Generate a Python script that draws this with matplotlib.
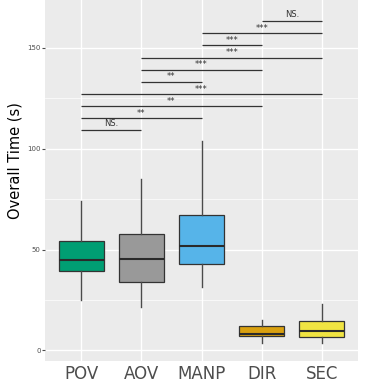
import matplotlib.pyplot as plt
import numpy as np

# conditions and box summary values (seconds)
groups = ["POV", "AOV", "MANP", "DIR", "SEC"]
colors = ["#009E73", "#999999", "#56B4E9", "#D9A00F", "#F0E442"]
whislo = [24.9, 21.6, 31.3, 3.8, 3.8]
q1 = [39.6, 34.0, 42.7, 7.4, 6.6]
med = [45.0, 45.5, 51.6, 8.0, 9.4]
q3 = [54.5, 57.8, 67.3, 11.9, 14.7]
whishi = [74.3, 85.0, 104.0, 15.3, 22.9]

# pairwise comparisons: (group a, group b, bar height, label)
pair_a = ["POV", "POV", "POV", "POV", "AOV", "AOV", "AOV", "MANP", "MANP", "DIR"]
pair_b = ["AOV", "MANP", "DIR", "SEC", "MANP", "DIR", "SEC", "DIR", "SEC", "SEC"]
pair_y = [109.4, 115.2, 121.1, 127.2, 133.3, 139.3, 145.2, 151.3, 157.2, 163.2]
pair_lab = ["NS.", "**", "**", "***", "**", "***", "***", "***", "***", "NS."]

fig = plt.figure(figsize=(3.67, 3.85), dpi=100)
ax = fig.add_axes([0.1226, 0.062, 0.853, 0.938])
ax.set_facecolor("#EBEBEB")
for s in ax.spines.values():
    s.set_visible(False)

pos = np.arange(1, len(groups) + 1)
ax.set_xlim(0.4, 5.6)
ax.set_ylim(-5.3, 173.8)

# ggplot-style grid
for y in [25, 75, 125]:
    ax.axhline(y, color="white", lw=0.5, zorder=0)
for y in [0, 50, 100, 150]:
    ax.axhline(y, color="white", lw=1.0, zorder=0)
for x in pos:
    ax.axvline(x, color="white", lw=1.0, zorder=0)

stats = []
for i, g in enumerate(groups):
    stats.append({"label": g, "whislo": whislo[i], "q1": q1[i], "med": med[i],
                  "q3": q3[i], "whishi": whishi[i], "fliers": []})

bp = ax.bxp(stats, positions=pos, widths=0.75, patch_artist=True, showcaps=False,
            boxprops=dict(edgecolor="#333333", linewidth=0.9),
            whiskerprops=dict(color="#4a4a4a", linewidth=1.0),
            medianprops=dict(color="#2a2a2a", linewidth=1.5))
for patch, c in zip(bp["boxes"], colors):
    patch.set_facecolor(c)

# significance bars
for a, b, y, lab in zip(pair_a, pair_b, pair_y, pair_lab):
    xa = groups.index(a) + 1
    xb = groups.index(b) + 1
    ax.plot([xa, xb], [y, y], color="#333333", lw=0.9, solid_capstyle="butt")
    if lab == "NS.":
        ax.text((xa + xb) / 2, y + 1.0, lab, ha="center", va="bottom",
                fontsize=6, color="#333333")
    else:
        ax.text((xa + xb) / 2, y + 0.2, lab, ha="center", va="bottom",
                fontsize=6, color="#333333")

ax.set_xticks(pos)
ax.set_xticklabels(groups, fontsize=12, color="#4D4D4D")
ax.set_yticks([0, 50, 100, 150])
ax.set_yticklabels(["0", "50", "100", "150"], fontsize=5, color="#4D4D4D")
ax.tick_params(axis="y", length=2, color="#4D4D4D", pad=1)
ax.tick_params(axis="x", length=0, pad=3)
fig.text(0.042, 0.584, "Overall Time (s)", rotation=90, ha="center", va="center",
         fontsize=10.5, color="black")

fig.savefig("out.png", dpi=100)
